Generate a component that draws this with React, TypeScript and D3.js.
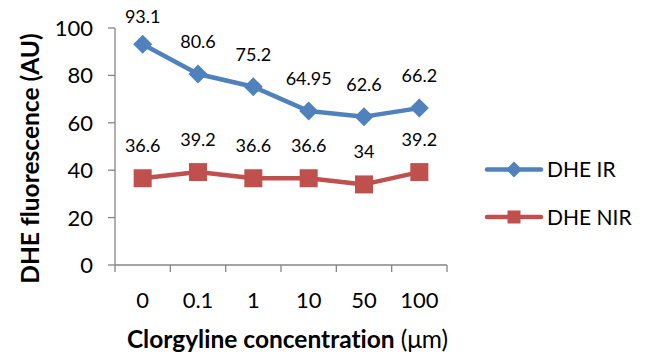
import React from "react";
import * as d3 from "d3";

const categories = ["0", "0.1", "1", "10", "50", "100"];
const irValues = [93.1, 80.6, 75.2, 64.95, 62.6, 66.2];
const nirValues = [36.6, 39.2, 36.6, 36.6, 34, 39.2];
const yTicks = [0, 20, 40, 60, 80, 100];
const irLabels = ["93.1", "80.6", "75.2", "64.95", "62.6", "66.2"];
const nirLabels = ["36.6", "39.2", "36.6", "36.6", "34", "39.2"];

const W = 653;
const H = 354;
const FONT = "Lato, 'Open Sans', sans-serif";
const BLUE = "#4F81BD";
const RED = "#C0504D";
const AXIS = "#868686";

export default function App() {
  const x = d3.scaleBand<string>().domain(categories).range([115, 447]);
  const y = d3.scaleLinear().domain([0, 100]).range([265, 28]);
  const cx = (c: string) => (x(c) as number) + x.bandwidth() / 2;

  const line = d3
    .line<number>()
    .x((_, i) => cx(categories[i]))
    .y((d) => y(d));

  const diamond = (px: number, py: number, r: number) =>
    `M${px},${py - r}L${px + r},${py}L${px},${py + r}L${px - r},${py}Z`;

  const labelY = (v: number) => Math.max(y(v) - 26, 23);

  const series = [
    { name: "DHE IR", values: irValues, labels: irLabels, color: BLUE, shape: "diamond" },
    { name: "DHE NIR", values: nirValues, labels: nirLabels, color: RED, shape: "square" },
  ];

  return (
    <svg
      width={W}
      height={H}
      style={{ position: "absolute", left: 0, top: 0, background: "#fff", fontVariantLigatures: "none" }}
      fontFamily={FONT}
    >
      <rect x={0} y={0} width={W} height={H} fill="#fff" />
      {/* y axis */}
      <line x1={115} x2={115} y1={y(100)} y2={y(0)} stroke={AXIS} strokeWidth={1.3} />
      {yTicks.map((t) => (
        <g key={t}>
          <line x1={108} x2={115} y1={y(t)} y2={y(t)} stroke={AXIS} strokeWidth={1.3} />
          <text x={93} y={y(t)} dy="0.36em" textAnchor="end" fontSize={22} fill="#000">
            {t}
          </text>
        </g>
      ))}
      {/* x axis */}
      <line x1={115} x2={447} y1={y(0)} y2={y(0)} stroke={AXIS} strokeWidth={1.3} />
      {categories.map((c, i) => (
        <line
          key={"t" + i}
          x1={x(c) as number}
          x2={x(c) as number}
          y1={y(0)}
          y2={y(0) + 7}
          stroke={AXIS}
          strokeWidth={1.3}
        />
      ))}
      <line x1={447} x2={447} y1={y(0)} y2={y(0) + 7} stroke={AXIS} strokeWidth={1.3} />
      {categories.map((c) => (
        <text key={c} x={cx(c)} y={308} textAnchor="middle" fontSize={22} fill="#000">
          {c}
        </text>
      ))}
      {/* axis titles */}
      <text x={287.5} y={348} textAnchor="middle" fontSize={24.5} fill="#000">
        <tspan fontWeight="bold">Clorgyline concentration </tspan>
        <tspan>(μm)</tspan>
      </text>
      <text
        transform={`translate(39,${(32 + 285) / 2}) rotate(-90)`}
        textAnchor="middle"
        fontSize={24.5}
        fontWeight="bold"
        fill="#000"
      >
        DHE fluorescence (AU)
      </text>
      {/* series */}
      {series.map((s) => (
        <g key={s.name}>
          <path
            d={line(s.values) ?? ""}
            fill="none"
            stroke={s.color}
            strokeWidth={4.5}
            strokeLinejoin="round"
          />
          {s.values.map((v, i) => {
            const px = cx(categories[i]);
            const py = y(v);
            return s.shape === "diamond" ? (
              <path key={i} d={diamond(px, py, 9.5)} fill={s.color} />
            ) : (
              <rect key={i} x={px - 9} y={py - 9} width={18} height={18} fill={s.color} />
            );
          })}
          {s.values.map((v, i) => (
            <text
              key={"l" + i}
              x={cx(categories[i])}
              y={labelY(v)}
              textAnchor="middle"
              fontSize={18}
              fill="#000"
            >
              {s.labels[i]}
            </text>
          ))}
        </g>
      ))}
      {/* legend */}
      {series.map((s, i) => {
        const ly = i === 0 ? 169.5 : 217;
        return (
          <g key={"lg" + i}>
            <line x1={487} x2={541} y1={ly} y2={ly} stroke={s.color} strokeWidth={4.5} strokeLinecap="round" />
            {s.shape === "diamond" ? (
              <path d={diamond(514, ly, 8)} fill={s.color} />
            ) : (
              <rect x={514 - 6.5} y={ly - 6.5} width={13} height={13} fill={s.color} />
            )}
            <text x={547} y={ly} dy="0.36em" fontSize={21} fill="#000">
              {s.name}
            </text>
          </g>
        );
      })}
    </svg>
  );
}
